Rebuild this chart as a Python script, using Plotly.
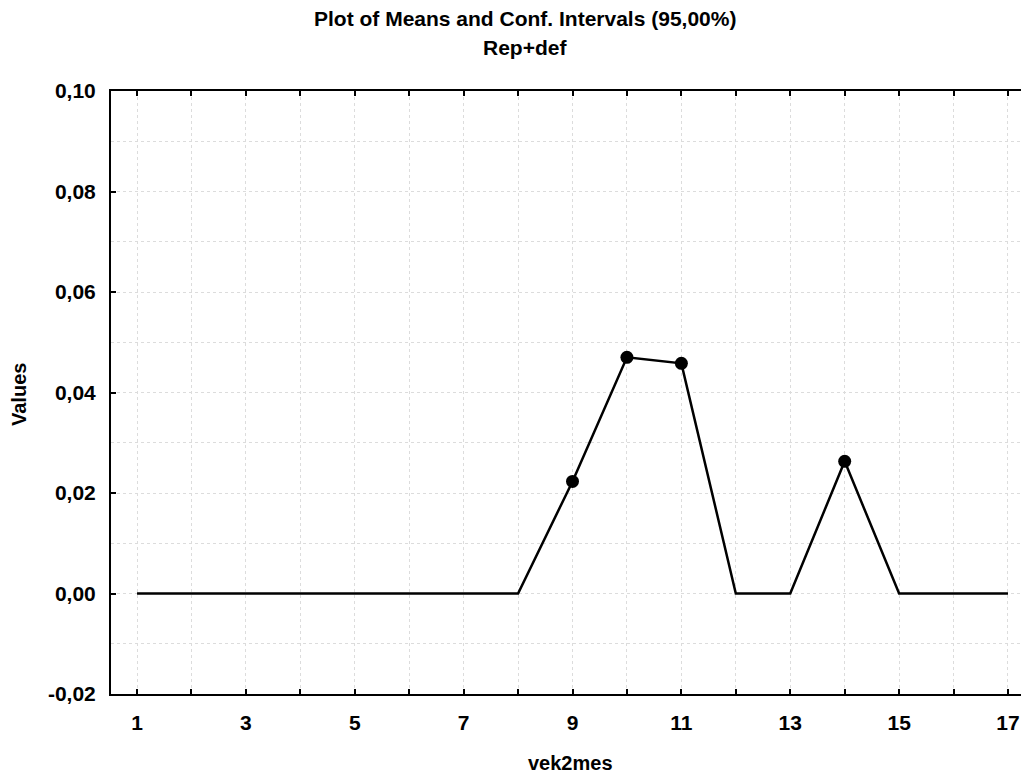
import plotly.graph_objects as go

vek2mes = list(range(1, 18))
values = [0, 0, 0, 0, 0, 0, 0, 0, 0.0223, 0.0470, 0.0458, 0, 0, 0.0263, 0, 0, 0]
x_tick_vals = [1, 3, 5, 7, 9, 11, 13, 15, 17]
y_tick_vals = [-0.02, 0.0, 0.02, 0.04, 0.06, 0.08, 0.10]
y_tick_text = ["-0,02", "0,00", "0,02", "0,04", "0,06", "0,08", "0,10"]

mx = [x for x, v in zip(vek2mes, values) if v != 0]
my = [v for v in values if v != 0]

FONT = "Liberation Sans, Arial, sans-serif"
FS = 20
W, H = 1029, 776
OFF = 8  # body margin of the html page
L, T, R, B = 111 - OFF, 91 - OFF, OFF, H - (694 - OFF)
PW, PH = W - L - R, H - T - B


def fx(rx):
    return (rx - OFF - L) / PW


def fy(ry):
    return ((H - B) - (ry - OFF)) / PH


fig = go.Figure()
fig.add_trace(go.Scatter(x=vek2mes, y=values, mode="lines",
                         line=dict(color="black", width=2.5), showlegend=False))
fig.add_trace(go.Scatter(x=mx, y=my, mode="markers",
                         marker=dict(color="black", size=13), showlegend=False))

GRID = "#dcdcdc"
TICKFONT = dict(family=FONT, size=21, color="black", weight="bold")

fig.update_layout(
    width=W, height=H,
    margin=dict(l=L, r=R, t=T, b=B),
    paper_bgcolor="white", plot_bgcolor="white",
    font=dict(family=FONT, size=FS, color="black"),
    xaxis=dict(range=[0.522, 17.386], tickvals=x_tick_vals, ticks="inside", ticklen=5,
               tickwidth=2, tickcolor="black", tickfont=TICKFONT,
               showline=True, linecolor="black", linewidth=2, mirror="ticks",
               showgrid=True, gridcolor=GRID, gridwidth=1, griddash="dot",
               minor=dict(dtick=1, tick0=1, ticks="inside", ticklen=5, tickwidth=2,
                          tickcolor="black", showgrid=True, gridcolor=GRID,
                          griddash="dot"),
               zeroline=False, ticklabelstandoff=9),
    yaxis=dict(range=[-0.02, 0.10], tickvals=y_tick_vals, ticktext=y_tick_text,
               ticks="inside", ticklen=5, tickwidth=2, tickcolor="black",
               tickfont=TICKFONT,
               showline=True, linecolor="black", linewidth=2,
               showgrid=True, gridcolor=GRID, gridwidth=1, griddash="dot",
               minor=dict(dtick=0.01, tick0=0, ticks="", showgrid=True,
                          gridcolor=GRID, griddash="dot"),
               zeroline=False, ticklabelstandoff=9),
    annotations=[
        dict(text="Plot of Means and Conf. Intervals (95,00%)", x=fx(525), y=fy(18),
             font=dict(size=21)),
        dict(text="Rep+def", x=fx(525), y=fy(48), font=dict(size=21)),
        dict(text="vek2mes", x=fx(570), y=fy(763)),
        dict(text="Values", x=fx(19), y=fy(395), textangle=-90),
    ],
)
fig.update_annotations(xref="paper", yref="paper", showarrow=False,
                       xanchor="center", yanchor="middle",
                       font=dict(family=FONT, color="black", weight="bold"))
for a in fig.layout.annotations:
    if a.font.size is None:
        a.font.size = FS

fig.write_html("out.html")
